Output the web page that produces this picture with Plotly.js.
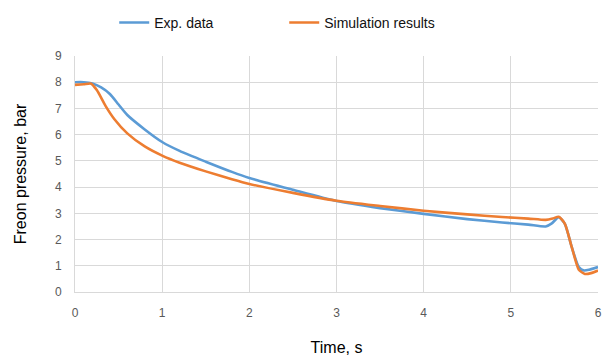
<!DOCTYPE html>
<html><head><meta charset="utf-8">
<script src="https://cdn.plot.ly/plotly-3.0.1.min.js"></script>
<style>html,body{margin:0;padding:0;background:#fff}</style>
</head><body>
<div id="chart" style="width:605px;height:356px"></div>
<script>
var expTime = [0,0.1,0.2,0.3,0.4,0.5,0.6,0.8,1.0,1.2,1.5,1.8,2.0,2.5,3.0,3.5,4.0,4.5,4.9,5.2,5.4,5.47,5.55,5.62,5.7,5.78,5.84,5.9,6.0];
var expPressure = [8.0,8.0,7.95,7.8,7.55,7.15,6.75,6.2,5.72,5.38,4.97,4.58,4.35,3.9,3.47,3.2,2.98,2.78,2.65,2.57,2.5,2.62,2.85,2.6,1.7,0.95,0.82,0.85,0.95];
var simTime = [0,0.1,0.18,0.25,0.35,0.45,0.6,0.8,1.0,1.2,1.5,1.8,2.0,2.5,3.0,3.5,4.0,4.5,4.9,5.2,5.4,5.48,5.55,5.62,5.7,5.78,5.85,5.92,6.0];
var simPressure = [7.9,7.92,7.95,7.7,7.1,6.6,6.05,5.55,5.2,4.93,4.6,4.3,4.12,3.78,3.48,3.28,3.1,2.96,2.86,2.8,2.75,2.8,2.87,2.6,1.7,0.85,0.69,0.72,0.82];
var xTicks = [0,1,2,3,4,5,6];
var yTicks = [0,1,2,3,4,5,6,7,8,9];

var traces = [
  {x: expTime, y: expPressure, name: 'Exp. data', type: 'scatter', mode: 'lines',
   line: {color: '#5B9BD5', width: 2.6, shape: 'spline', smoothing: 0.6}},
  {x: simTime, y: simPressure, name: 'Simulation results', type: 'scatter', mode: 'lines',
   line: {color: '#ED7D31', width: 2.6, shape: 'spline', smoothing: 0.6}}
];
var layout = {
  width: 605, height: 356,
  margin: {l: 75, r: 7, t: 56, b: 64, autoexpand: false},
  paper_bgcolor: '#fff', plot_bgcolor: '#fff',
  font: {family: 'Liberation Sans, Arial, sans-serif'},
  showlegend: true,
  legend: {orientation: 'h', x: 0.075, xanchor: 'left', y: 1.14, yanchor: 'middle',
           font: {size: 14, color: '#111'}, entrywidth: 125, itemwidth: 30},
  xaxis: {range: [0, 6], tickvals: xTicks, showgrid: true, gridcolor: '#d9d9d9', gridwidth: 1,
          zeroline: false, showline: true, linecolor: '#d9d9d9', mirror: false,
          tickfont: {size: 12, color: '#595959'}, ticks: '', ticklabelstandoff: 10,
          title: {text: 'Time, s', font: {size: 16, color: '#000'}, standoff: 22}},
  yaxis: {range: [0, 9], tickvals: yTicks, showgrid: true, gridcolor: '#d9d9d9', gridwidth: 1,
          zeroline: false, showline: true, linecolor: '#d9d9d9',
          tickfont: {size: 12, color: '#595959'}, ticks: '', ticklabelstandoff: 10,
          title: {text: 'Freon pressure, bar', font: {size: 16, color: '#000'}, standoff: 24}}
};
Plotly.newPlot('chart', traces, layout, {displayModeBar: false, staticPlot: true});
</script>
</body></html>
